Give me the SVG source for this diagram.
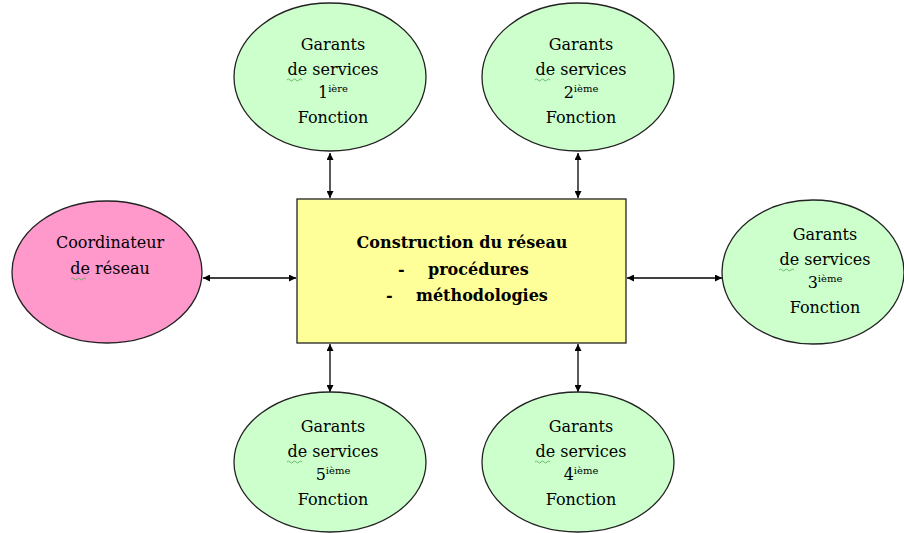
<svg xmlns="http://www.w3.org/2000/svg" width="904" height="533" viewBox="0 0 904 533">
<style>
.g{fill:#ccffcc;stroke:#222;stroke-width:1.3}
text{font-family:'DejaVu Serif','Liberation Serif',serif;font-size:16px;fill:#000}
.t{text-anchor:middle}
.l{text-anchor:start}
.s{font-size:10px}
.b{font-weight:bold}
.c{stroke:#000;stroke-width:1.3;fill:none;marker-start:url(#a);marker-end:url(#a)}
.w{stroke:#4caf50;stroke-width:0.8;fill:none}
</style>
<defs>
<marker id="a" viewBox="0 0 10 10" refX="10" refY="5" markerWidth="7" markerHeight="7" markerUnits="userSpaceOnUse" orient="auto-start-reverse"><path d="M0,0L10,5L0,10z" fill="#000"/></marker>
</defs>
<rect width="904" height="533" fill="#fff"/>
<g id="connectors">
<line class="c" x1="330" y1="153" x2="330" y2="198"/>
<line class="c" x1="578" y1="153" x2="578" y2="198"/>
<line class="c" x1="330" y1="344" x2="330" y2="392"/>
<line class="c" x1="578" y1="344" x2="578" y2="392"/>
<line class="c" x1="203" y1="278" x2="296" y2="278"/>
<line class="c" x1="627" y1="278" x2="722" y2="278"/>
</g>
<g id="center">
<rect x="297" y="199" width="329" height="144" fill="#ffff99" stroke="#222" stroke-width="1.3"/>
<text class="t b" x="462" y="248">Construction du réseau</text>
<text class="l b" x="398" y="275">-</text>
<text class="l b" x="428" y="275">procédures</text>
<text class="l b" x="386" y="301">-</text>
<text class="l b" x="416" y="301">méthodologies</text>
</g>
<g id="coordinateur">
<ellipse cx="107" cy="272" rx="95" ry="71" fill="#ff99cc" stroke="#222" stroke-width="1.3"/>
<text class="t" x="110" y="248">Coordinateur</text>
<text class="t" x="110" y="274">de réseau</text>
<path class="w" d="M71,279q1.5,-2 3,0t3,0t3,0t3,0t3,0"/>
</g>
<g id="g1">
<ellipse class="g" cx="330" cy="77" rx="96" ry="74"/>
<text class="t" x="333" y="50">Garants</text>
<text class="t" x="333" y="75">de services</text>
<text class="t" x="333" y="98">1<tspan class="s" dy="-6">ière</tspan></text>
<text class="t" x="333" y="123">Fonction</text>
<path class="w" d="M287,80q1.5,-2 3,0t3,0t3,0t3,0t3,0"/>
</g>
<g id="g2">
<ellipse class="g" cx="578" cy="77" rx="96" ry="74"/>
<text class="t" x="581" y="50">Garants</text>
<text class="t" x="581" y="75">de services</text>
<text class="t" x="581" y="98">2<tspan class="s" dy="-6">ième</tspan></text>
<text class="t" x="581" y="123">Fonction</text>
<path class="w" d="M535,80q1.5,-2 3,0t3,0t3,0t3,0t3,0"/>
</g>
<g id="g3">
<ellipse class="g" cx="813" cy="272" rx="91" ry="72"/>
<text class="t" x="825" y="240">Garants</text>
<text class="t" x="825" y="265">de services</text>
<text class="t" x="825" y="288">3<tspan class="s" dy="-6">ième</tspan></text>
<text class="t" x="825" y="313">Fonction</text>
<path class="w" d="M779,270q1.5,-2 3,0t3,0t3,0t3,0t3,0"/>
</g>
<g id="g4">
<ellipse class="g" cx="578" cy="462" rx="96" ry="70"/>
<text class="t" x="581" y="432">Garants</text>
<text class="t" x="581" y="457">de services</text>
<text class="t" x="581" y="480">4<tspan class="s" dy="-6">ième</tspan></text>
<text class="t" x="581" y="505">Fonction</text>
<path class="w" d="M535,462q1.5,-2 3,0t3,0t3,0t3,0t3,0"/>
</g>
<g id="g5">
<ellipse class="g" cx="330" cy="462" rx="96" ry="70"/>
<text class="t" x="333" y="432">Garants</text>
<text class="t" x="333" y="457">de services</text>
<text class="t" x="333" y="480">5<tspan class="s" dy="-6">ième</tspan></text>
<text class="t" x="333" y="505">Fonction</text>
<path class="w" d="M287,462q1.5,-2 3,0t3,0t3,0t3,0t3,0"/>
</g>
</svg>
